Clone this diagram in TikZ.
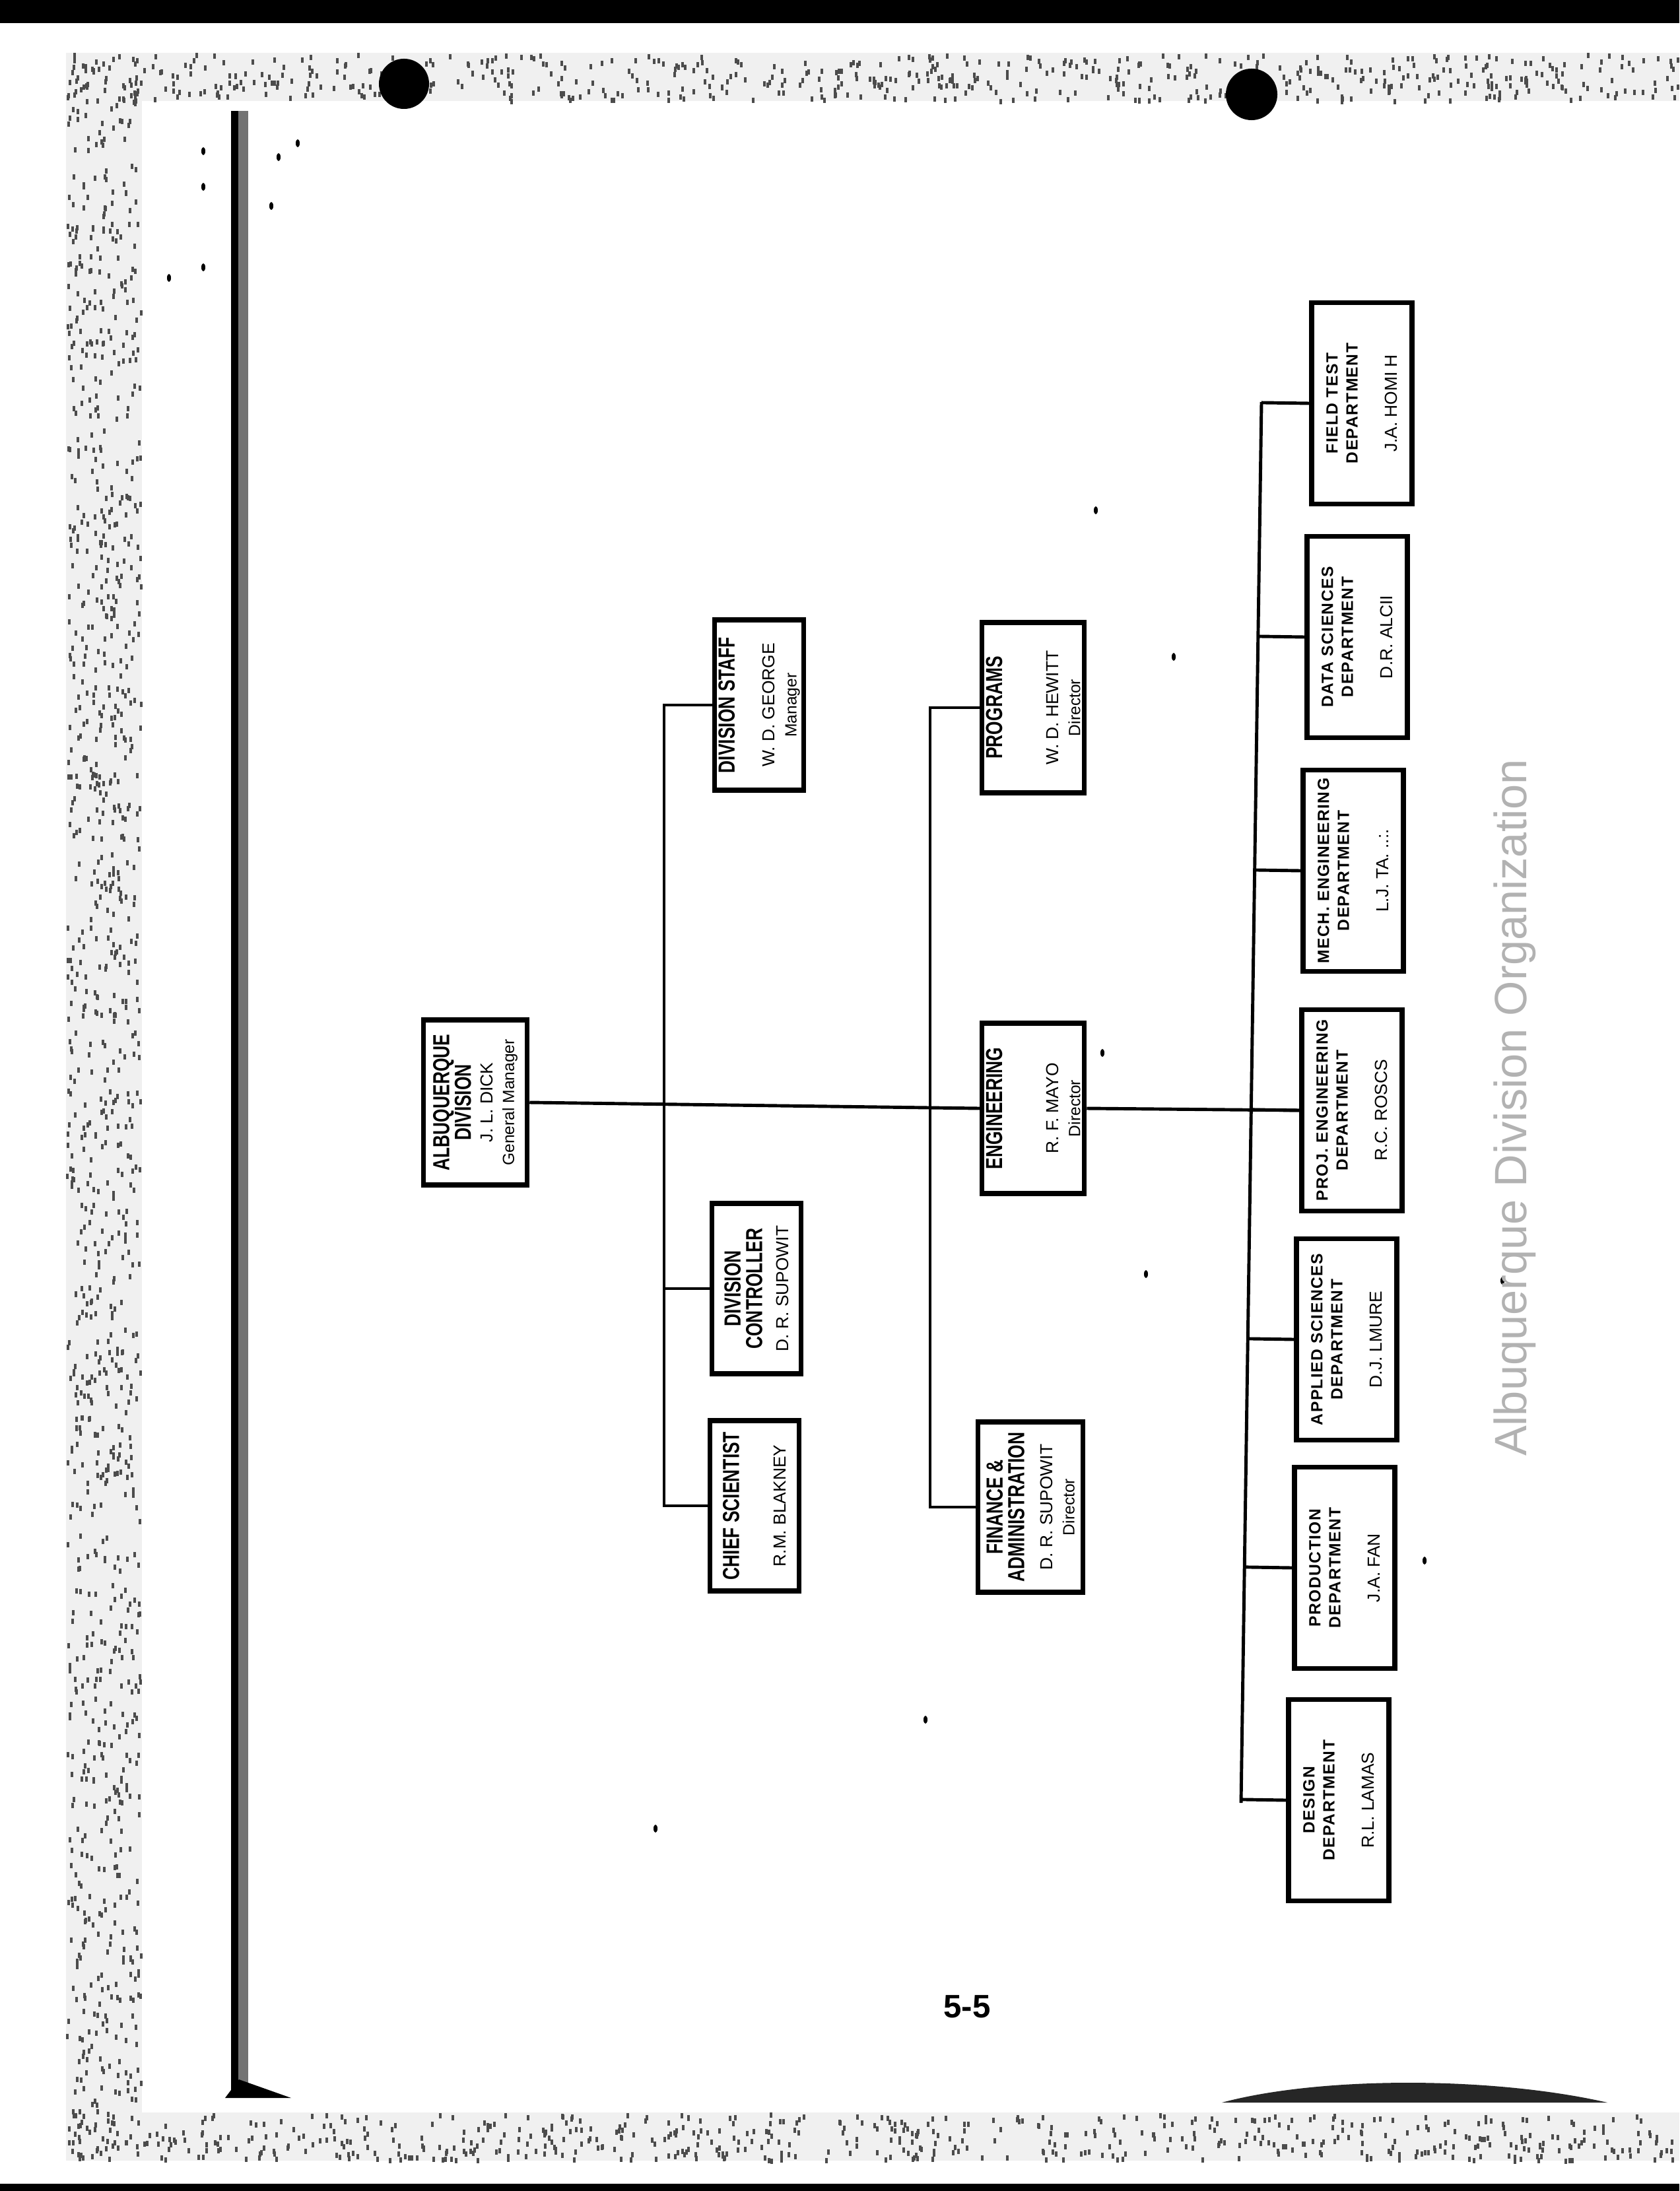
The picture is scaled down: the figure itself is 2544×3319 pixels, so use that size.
\documentclass[tikz,border=0pt]{standalone}
\usepackage{fontspec}
\setmainfont{Liberation Sans}
\newfontfamily\narrowfont[FakeStretch=0.75]{Liberation Sans}
\newfontfamily\spacedfont[LetterSpace=6]{Liberation Sans}
\usetikzlibrary{calc}

\newcommand\chtitle{\narrowfont\bfseries\fontsize{10}{9.3}\selectfont}
\newcommand\chdept{\spacedfont\bfseries\fontsize{7}{8.6}\selectfont}
\newcommand\chname{\normalfont\fontsize{7.5}{8.6}\selectfont}
\newcommand\chrole{\normalfont\fontsize{7}{8.6}\selectfont}

\tikzset{
    unit/.style={draw, line width=2.1pt, rotate=90, align=center, inner sep=0pt,
                 font=\fontsize{7.5}{9.3}\selectfont,
                 minimum width=2.58cm, minimum height=1.55cm},
    staffunit/.style={unit, minimum height=1.35cm},
    dept/.style={unit, font=\fontsize{7}{8.6}\selectfont,
                 minimum width=3.05cm, minimum height=1.52cm},
    link/.style={line width=1.4pt},
    speck/.style={black!70},
}

\begin{document}
\begin{tikzpicture}[x=0.01cm, y=-0.01cm]
    \useasboundingbox (0,0) rectangle (2544,3319);
    \fill[white] (0,0) rectangle (2544,3319);

    % scanned page
    \fill (0,0) rectangle (2544,35);
    \fill (0,3308) rectangle (2544,3319);
    \fill[black!6] (100,80) rectangle (2544,153);
    \fill[black!6] (100,80) rectangle (215,3273);
    \fill[black!6] (100,3200) rectangle (2544,3273);
    \pgfmathsetseed{1234}
    \foreach \i in {1,...,600}
        \fill[speck] ({100+2444*rnd},{80+70*rnd}) rectangle ++(4,8);
    \foreach \i in {1,...,1100}
        \fill[speck] ({100+112*rnd},{80+3190*rnd}) rectangle ++(4,8);
    \foreach \i in {1,...,600}
        \fill[speck] ({100+2444*rnd},{3200+70*rnd}) rectangle ++(4,8);
    \fill (612,127) circle (0.38cm);
    \fill (1896,143) circle (0.39cm);
    \fill (350,168) rectangle (361,3177);
    \fill[black!55] (361,168) rectangle (376,3165);
    \fill (341,3178) -- (362,3150) -- (441,3178) -- cycle;
    \fill[black!85] (1851,3185) .. controls (2000,3145) and (2260,3145) .. (2435,3185) -- cycle;
    \foreach \x/\y in {308/229, 451/217, 422/238, 308/283, 411/312, 308/405,
                       256/421, 1660/773, 1778/995, 1736/1930, 2158/2364,
                       993/2770, 1402/2605, 1670/1595, 2276/1940}
        \fill (\x,\y) ellipse (0.03cm and 0.06cm);

    % boxes
    \node[unit, minimum width=2.5cm, minimum height=1.57cm] (albq) at (720,1670)
        {\chtitle ALBUQUERQUE\\\chtitle DIVISION\\\chname J. L. DICK\\\chrole General Manager};
    \node[staffunit] (staff) at (1150,1068)
        {\chtitle DIVISION STAFF\\[8pt]\chname W. D. GEORGE\\\chrole Manager};
    \node[staffunit] (ctrl) at (1146,1952)
        {\chtitle DIVISION\\\chtitle CONTROLLER\\[2pt]\chname D. R. SUPOWIT};
    \node[staffunit] (chief) at (1143,2281)
        {\chtitle CHIEF SCIENTIST\\[11pt]\chname R.M. BLAKNEY};
    \node[unit] (prog) at (1565,1072)
        {\chtitle PROGRAMS\\[15pt]\chname W. D. HEWITT\\\chrole Director};
    \node[unit] (eng) at (1565,1679)
        {\chtitle ENGINEERING\\[15pt]\chname R. F. MAYO\\\chrole Director};
    \node[unit, minimum height=1.59cm] (fin) at (1561,2283)
        {\chtitle FINANCE \&\\\chtitle ADMINISTRATION\\[3pt]\chname D. R. SUPOWIT\\\chrole Director};

    \foreach \n/\x/\y/\t/\p in {field/2063/611/FIELD TEST/J.A. HOMI H,
                                data/2056/965/DATA SCIENCES/D.R. ALCII,
                                mech/2050/1319/MECH. ENGINEERING/L.J. TA. ..:.,
                                proj/2048/1682/PROJ. ENGINEERING/R.C. ROSCS,
                                appl/2040/2029/APPLIED SCIENCES/D.J. LMURE,
                                prod/2037/2375/PRODUCTION/J.A. FAN,
                                design/2028/2727/DESIGN/R.L. LAMAS}
        \node[dept] (\n) at (\x,\y) {\chdept \t\\\chdept DEPARTMENT\\[8.4pt]\chname \p};

    % connectors
    \coordinate (ltop) at (1006,1068);
    \coordinate (lbot) at (1006,2281);
    \coordinate (mtop) at (1409,1072);
    \coordinate (mbot) at (1409,2283);
    \coordinate (rtop) at (1911,609);
    \coordinate (rbot) at (1880,2731);

    \path[draw, link] (albq.south) -- (eng.north);
    \path[draw, link] (eng.south) -- (proj.north);
    \path[draw, link] (staff.north) -- (ltop) -- (lbot) -- (chief.north);
    \path[draw, link] (ctrl.north) -- (ctrl.north -| ltop);
    \path[draw, link] (prog.north) -- (mtop) -- (mbot) -- (fin.north);
    \path[draw, link] (rtop) -- (rbot);
    \foreach \n in {field,data,mech,proj,appl,prod,design}
        \path[draw, link] (\n.north) -- ($(rtop)!(\n.north)!(rbot)$);

    \node[rotate=90, text=black!30, font=\fontsize{19.5}{20}\selectfont] (caption)
        at (2295,1678) {Albuquerque Division Organization};
    \node[font=\bfseries\fontsize{14}{14}\selectfont] (pageno) at (1465,3040) {5-5};
\end{tikzpicture}
\end{document}
